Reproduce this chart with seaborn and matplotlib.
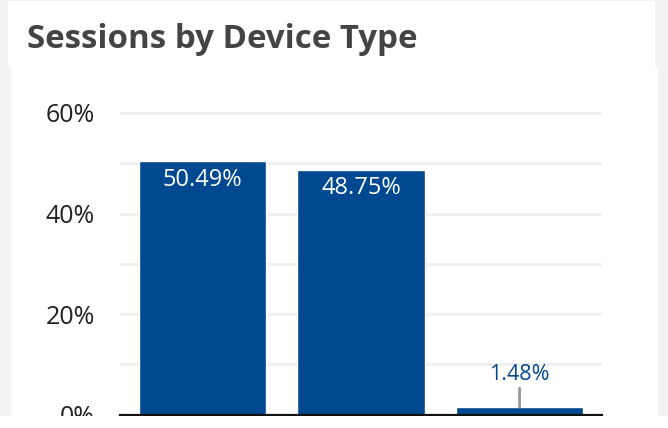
import matplotlib
matplotlib.use("Agg")
import matplotlib.pyplot as plt
import seaborn as sns
import pandas as pd
from matplotlib.patches import Rectangle
from matplotlib.ticker import MultipleLocator, FuncFormatter

# ---- data ----
categories = ["desktop", "mobile", "tablet"]
shares = [50.49, 48.75, 1.48]
label_texts = ["50.49%", "48.75%", "1.48%"]
title_text = "Sessions by Device Type"

sns.set_theme(style="white")
plt.rcParams["font.family"] = ["Open Sans", "DejaVu Sans"]

W, H = 668, 428
fig = plt.figure(figsize=(W / 100, H / 100), dpi=100)
fig.patch.set_facecolor("#f2f2f2")

def px_rect(x0, y0, x1, y1, **kw):
    # pixel coords from top-left
    return Rectangle((x0 / W, 1 - y1 / H), (x1 - x0) / W, (y1 - y0) / H,
                     transform=fig.transFigure, **kw)

# header card and body card
fig.add_artist(px_rect(8, 1, 655, 67, facecolor="white", edgecolor="none", zorder=-5))
fig.add_artist(px_rect(11, 67, 658, 416, facecolor="white", edgecolor="none", zorder=-5))

fig.text(27 / W, 1 - 40 / H, title_text, fontsize=23.8, fontweight="bold",
         color="#444444", ha="left", va="center")

# axes: x 120..602 px, y: 0 at 414.5 px, 62.5 at top
ymax = 62.5
pxper = (414.5 - 113) / 60.0
top_px = 414.5 - ymax * pxper
ax = fig.add_axes([120 / W, 1 - 414.5 / H, (602 - 120) / W, (414.5 - top_px) / H])
ax.set_facecolor("none")

df = pd.DataFrame({"device": categories, "share": shares})
sns.barplot(data=df, x="device", y="share", color="#004990", saturation=1,
            width=0.805, ax=ax, zorder=3)

ax.set_xlim(-0.52, 2.52)
ax.set_ylim(0, ymax)
ax.yaxis.set_major_locator(MultipleLocator(20))
ax.yaxis.set_minor_locator(MultipleLocator(10))
ax.yaxis.set_major_formatter(FuncFormatter(lambda v, p: f"{v:.0f}%"))
ax.grid(True, axis="y", which="both", color="#f0f0f0", linewidth=2.2, zorder=0)
ax.set_axisbelow(True)
ax.tick_params(axis="y", which="both", length=0, pad=18, labelsize=18,
               labelcolor="#222222")
ax.tick_params(axis="x", length=0, labelbottom=False)
ax.set_xlabel("")
ax.set_ylabel("")
for s in ["top", "right", "left"]:
    ax.spines[s].set_visible(False)
ax.spines["bottom"].set_color("#111111")
ax.spines["bottom"].set_linewidth(1.6)
ax.spines["bottom"].set_zorder(5)

# value labels
for i, (v, t) in enumerate(zip(shares, label_texts)):
    if v > 10:
        ax.annotate(t, (i, v), xytext=(0, -13.5), textcoords="offset points",
                    ha="center", va="center", color="white", fontsize=17)
    else:
        ax.annotate(t, (i, v), xytext=(0, 23.5), textcoords="offset points",
                    ha="center", va="center", color="#004990", fontsize=15.5,
                    arrowprops=dict(arrowstyle="-", color="#999999", lw=2,
                                    shrinkA=0, shrinkB=0))

# bottom clip band
fig.add_artist(px_rect(0, 416, W, H + 1, facecolor="white", edgecolor="none", zorder=20))

fig.savefig("out.png", dpi=100, facecolor=fig.get_facecolor())
